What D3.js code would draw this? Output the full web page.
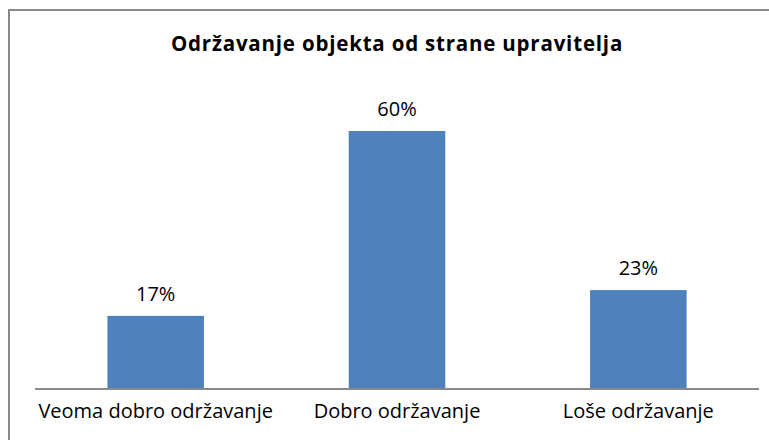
<!DOCTYPE html>
<html><head><meta charset="utf-8">
<script src="https://cdn.jsdelivr.net/npm/d3@7"></script>
<style>html,body{margin:0;padding:0;background:#fff;}svg{display:block;}</style>
</head><body>
<svg id="chart" width="769" height="440"></svg>
<script>
const title = "Održavanje objekta od strane upravitelja";
const categories = ["Veoma dobro održavanje", "Dobro održavanje", "Loše održavanje"];
const values = [17, 60, 23];
const valueLabels = ["17%", "60%", "23%"];

const svg = d3.select("#chart");
const font = "'Open Sans', Lato, sans-serif";

svg.append("rect").attr("x", 9).attr("y", 10).attr("width", 800).attr("height", 480)
  .attr("fill", "#fff").attr("stroke", "#898989").attr("stroke-width", 2);

const x = d3.scaleBand().domain(categories).range([35, 759]).paddingInner(0.6).paddingOuter(0.3);
const y = d3.scaleLinear().domain([0, 70]).range([389, 88]);

svg.append("text").attr("x", 397).attr("y", 51).attr("text-anchor", "middle")
  .attr("font-family", font).attr("font-weight", "bold").attr("font-size", 20.5)
  .attr("letter-spacing", 0.8)
  .attr("fill", "#000").text(title);

svg.selectAll("rect.bar").data(values).join("rect").attr("class", "bar")
  .attr("x", (d, i) => x(categories[i])).attr("width", x.bandwidth())
  .attr("y", d => y(d)).attr("height", d => y(0) - y(d)).attr("fill", "#4F81BD");

svg.selectAll("text.val").data(values).join("text").attr("class", "val")
  .attr("x", (d, i) => x(categories[i]) + x.bandwidth() / 2).attr("y", d => y(d) - 15)
  .attr("text-anchor", "middle").attr("font-family", font).attr("font-size", 20)
  .attr("fill", "#000").text((d, i) => valueLabels[i]);

const axis = d3.axisBottom(x).tickSize(0).tickPadding(29);
const g = svg.append("g").attr("transform", `translate(0,${y(0)})`).call(axis);
g.select(".domain").attr("stroke", "#888").attr("stroke-width", 2).attr("d", "M35,0H759");
g.selectAll("text").attr("font-family", font).attr("font-size", 20).attr("fill", "#000").attr("dy", "0");
</script>
</body></html>
